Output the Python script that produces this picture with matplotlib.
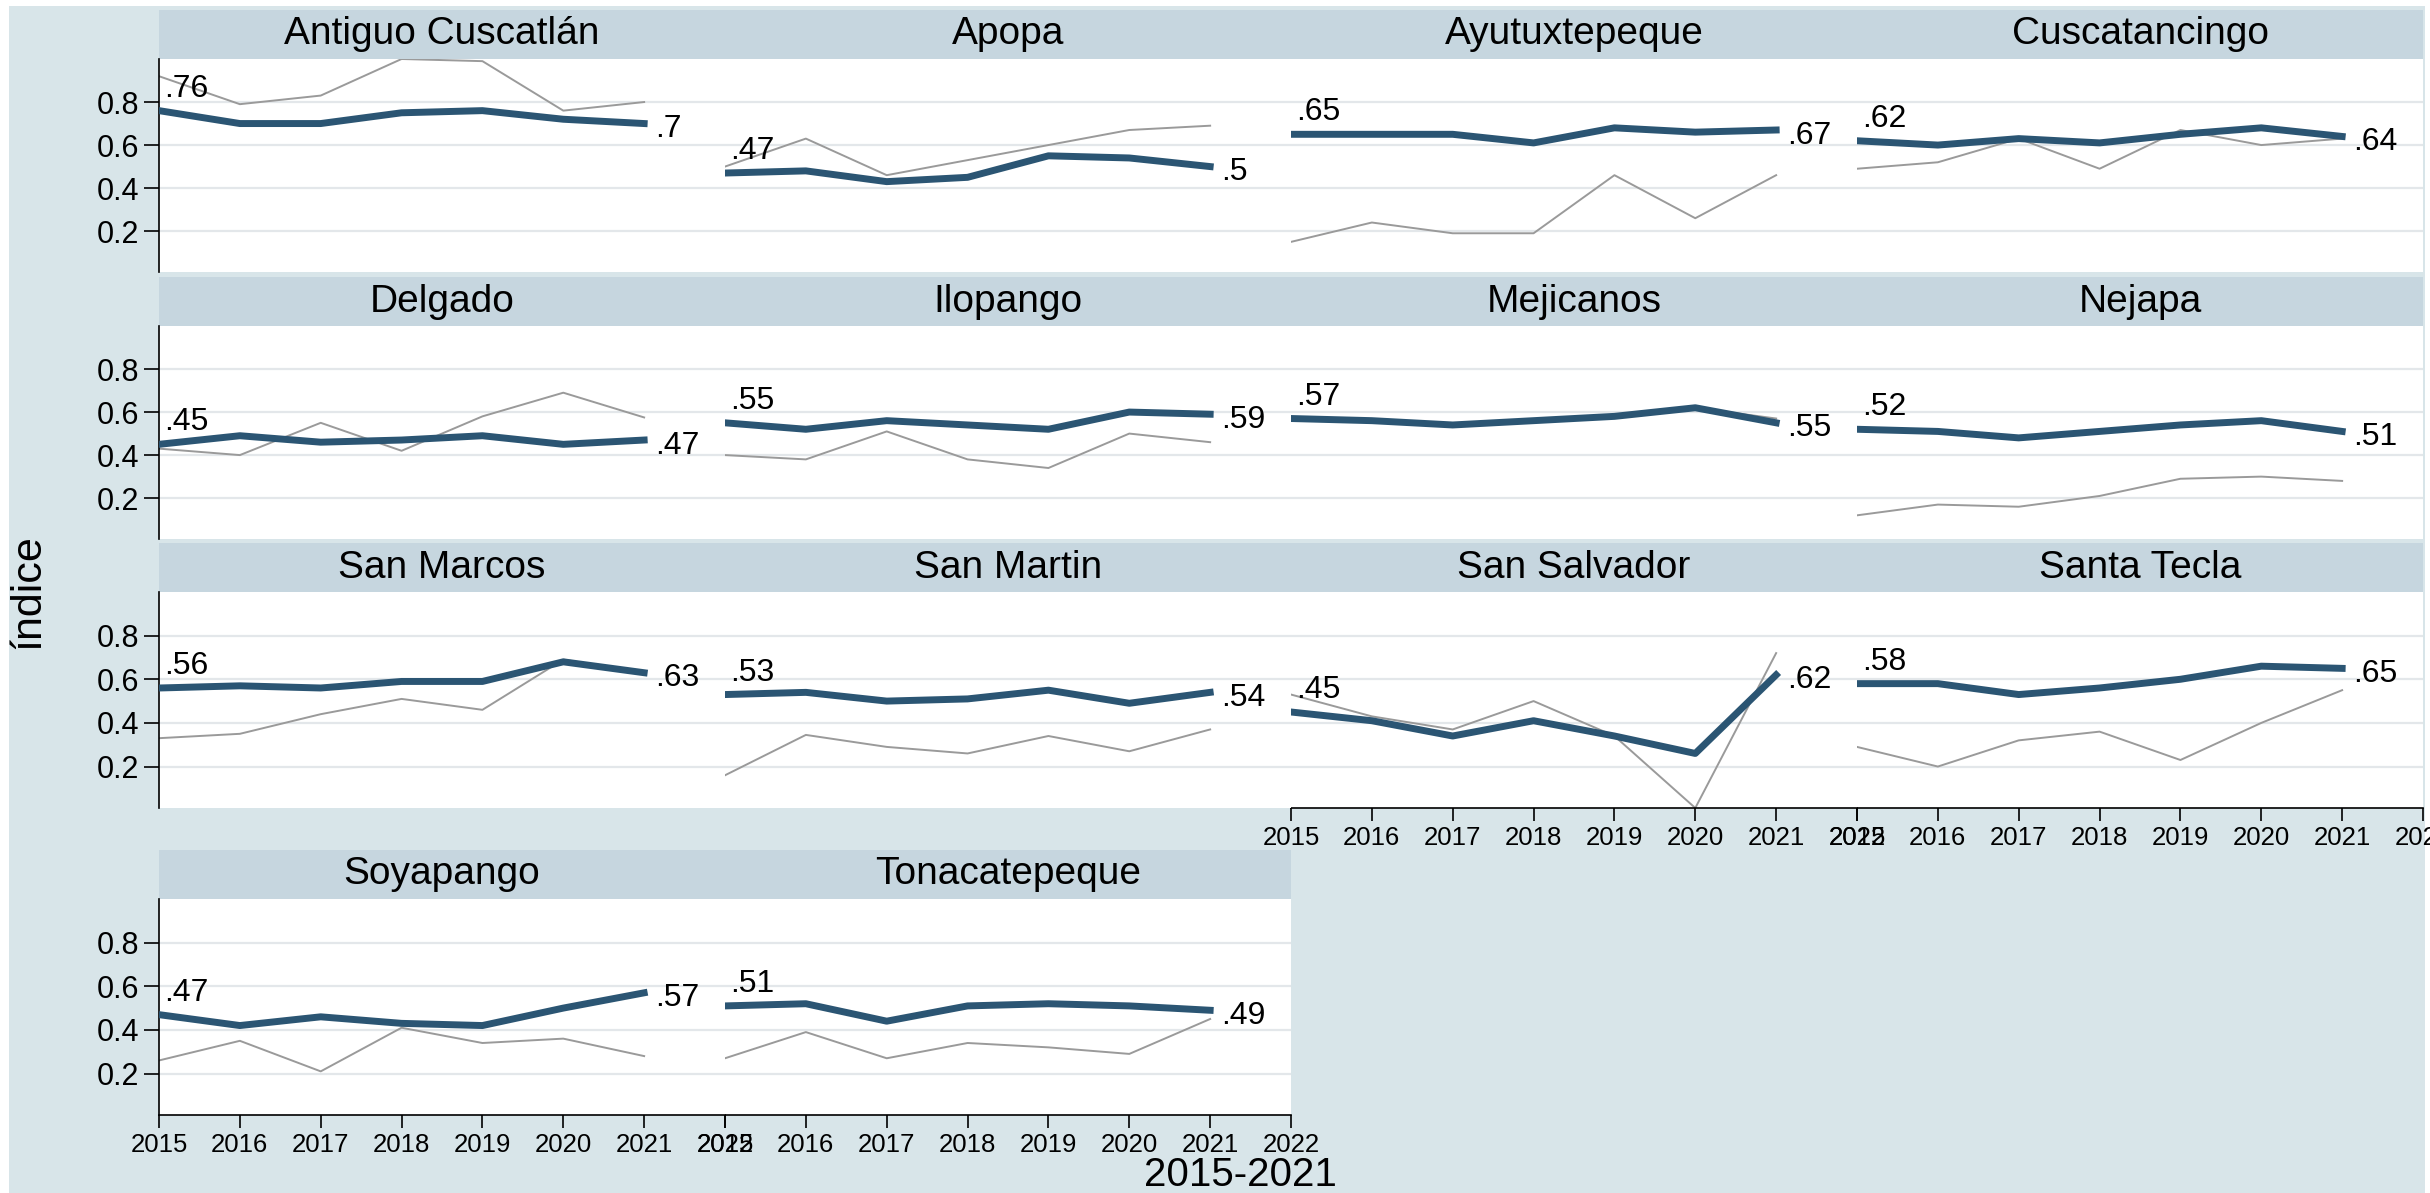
import matplotlib
matplotlib.use("Agg")
import matplotlib.pyplot as plt
from matplotlib.patches import Rectangle

plt.rcParams['font.family'] = ['Liberation Sans', 'DejaVu Sans']

# Años del período
anios = [2015, 2016, 2017, 2018, 2019, 2020, 2021]

# Índice por municipio (línea azul) y serie de comparación (línea gris)
antiguo_idx = [0.76, 0.70, 0.70, 0.75, 0.76, 0.72, 0.70]
antiguo_gris = [0.92, 0.79, 0.83, 1.00, 0.99, 0.76, 0.80]
apopa_idx = [0.47, 0.48, 0.43, 0.45, 0.55, 0.54, 0.50]
apopa_gris = [0.50, 0.63, 0.46, 0.53, 0.60, 0.67, 0.69]
ayutux_idx = [0.65, 0.65, 0.65, 0.61, 0.68, 0.66, 0.67]
ayutux_gris = [0.15, 0.24, 0.19, 0.19, 0.46, 0.26, 0.46]
cuscatancingo_idx = [0.62, 0.60, 0.63, 0.61, 0.65, 0.68, 0.64]
cuscatancingo_gris = [0.49, 0.52, 0.63, 0.49, 0.67, 0.60, 0.63]
delgado_idx = [0.45, 0.49, 0.46, 0.47, 0.49, 0.45, 0.47]
delgado_gris = [0.43, 0.40, 0.55, 0.42, 0.58, 0.69, 0.575]
ilopango_idx = [0.55, 0.52, 0.56, 0.54, 0.52, 0.60, 0.59]
ilopango_gris = [0.40, 0.38, 0.51, 0.38, 0.34, 0.50, 0.46]
mejicanos_idx = [0.57, 0.56, 0.54, 0.56, 0.58, 0.62, 0.55]
mejicanos_gris = [0.56, 0.555, 0.54, 0.555, 0.585, 0.62, 0.57]
nejapa_idx = [0.52, 0.51, 0.48, 0.51, 0.54, 0.56, 0.51]
nejapa_gris = [0.12, 0.17, 0.16, 0.21, 0.29, 0.30, 0.28]
san_marcos_idx = [0.56, 0.57, 0.56, 0.59, 0.59, 0.68, 0.63]
san_marcos_gris = [0.33, 0.35, 0.44, 0.51, 0.46, 0.69, 0.63]
san_martin_idx = [0.53, 0.54, 0.50, 0.51, 0.55, 0.49, 0.54]
san_martin_gris = [0.16, 0.345, 0.29, 0.26, 0.34, 0.27, 0.37]
san_salvador_idx = [0.45, 0.41, 0.34, 0.41, 0.34, 0.26, 0.62]
san_salvador_gris = [0.53, 0.43, 0.37, 0.50, 0.34, 0.01, 0.72]
santa_tecla_idx = [0.58, 0.58, 0.53, 0.56, 0.60, 0.66, 0.65]
santa_tecla_gris = [0.29, 0.20, 0.32, 0.36, 0.23, 0.40, 0.55]
soyapango_idx = [0.47, 0.42, 0.46, 0.43, 0.42, 0.50, 0.57]
soyapango_gris = [0.26, 0.35, 0.21, 0.41, 0.34, 0.36, 0.28]
tonaca_idx = [0.51, 0.52, 0.44, 0.51, 0.52, 0.51, 0.49]
tonaca_gris = [0.27, 0.39, 0.27, 0.34, 0.32, 0.29, 0.45]

municipios = ["Antiguo Cuscatlán", "Apopa", "Ayutuxtepeque", "Cuscatancingo",
              "Delgado", "Ilopango", "Mejicanos", "Nejapa",
              "San Marcos", "San Martin", "San Salvador", "Santa Tecla",
              "Soyapango", "Tonacatepeque"]
series_idx = [antiguo_idx, apopa_idx, ayutux_idx, cuscatancingo_idx,
              delgado_idx, ilopango_idx, mejicanos_idx, nejapa_idx,
              san_marcos_idx, san_martin_idx, san_salvador_idx, santa_tecla_idx,
              soyapango_idx, tonaca_idx]
series_gris = [antiguo_gris, apopa_gris, ayutux_gris, cuscatancingo_gris,
               delgado_gris, ilopango_gris, mejicanos_gris, nejapa_gris,
               san_marcos_gris, san_martin_gris, san_salvador_gris, santa_tecla_gris,
               soyapango_gris, tonaca_gris]

y_ticks = [0.2, 0.4, 0.6, 0.8]
x_ticks = [2015, 2016, 2017, 2018, 2019, 2020, 2021, 2022]

# Colores estilo Stata s2color
FONDO = "#d8e5e9"
FRANJA = "#c6d6df"
AZUL = "#2b5573"
GRIS = "#9a9a9a"

W, H = 2430, 1193
fig = plt.figure(figsize=(W / 100, H / 100), dpi=100, facecolor="white")
fig.patches.append(Rectangle((9 / W, 0), (2425 - 9) / W, 1 - 6 / H,
                             transform=fig.transFigure, facecolor=FONDO,
                             edgecolor="none", zorder=-10))


def ejes_px(left, top, width, height):
    # crea ejes a partir de coordenadas en píxeles (origen arriba a la izquierda)
    return fig.add_axes([left / W, 1 - (top + height) / H, width / W, height / H])


def etiqueta(v):
    # formato tipo Stata: .7, .47
    return ("%.2f" % v).rstrip("0").lstrip("0")


col_left = [159, 725, 1291, 1857]
ancho = 566
row_top = [10, 277, 543, 850]
alto_franja = 49
alto_plot = [213, 213, 216, 216]

for i, nombre in enumerate(municipios):
    r, c = divmod(i, 4)
    x0 = col_left[c]
    top = row_top[r]

    # franja con el nombre del municipio
    franja = ejes_px(x0, top, ancho, alto_franja)
    franja.set_facecolor(FRANJA)
    franja.set_xticks([])
    franja.set_yticks([])
    for s in franja.spines.values():
        s.set_visible(False)
    franja.text(0.5, 0.5, nombre, ha="center", va="center", fontsize=28,
                color="black", transform=franja.transAxes)

    ax = ejes_px(x0, top + alto_franja, ancho, alto_plot[r])
    ax.set_zorder(10 - c)
    ax.set_facecolor("white")
    ax.set_xlim(2015, 2022)
    ax.set_ylim(0.01, 1.0)
    ax.set_yticks(y_ticks)
    ax.set_yticklabels([str(t) for t in y_ticks])
    ax.set_xticks(x_ticks)
    ax.grid(axis="y", color="#e3e7ea", lw=1.6)
    ax.set_axisbelow(True)

    ax.plot(anios, series_gris[i], color=GRIS, lw=1.4, zorder=2)
    ax.plot(anios, series_idx[i], color=AZUL, lw=5, zorder=3,
            solid_joinstyle="round")

    ax.annotate(etiqueta(series_idx[i][0]), (anios[0], series_idx[i][0]),
                xytext=(4, 5), textcoords="offset points", ha="left",
                va="bottom", fontsize=23, zorder=5)
    ax.annotate(etiqueta(series_idx[i][-1]), (anios[-1], series_idx[i][-1]),
                xytext=(8, -4), textcoords="offset points", ha="left",
                va="center", fontsize=23, zorder=5)

    for s in ["top", "right"]:
        ax.spines[s].set_visible(False)

    if c == 0:
        ax.spines["left"].set_color("black")
        ax.spines["left"].set_linewidth(1.2)
        ax.tick_params(axis="y", direction="out", length=11, width=1.2,
                       labelsize=22, pad=3)
    else:
        ax.spines["left"].set_visible(False)
        ax.tick_params(axis="y", left=False, labelleft=False)

    # eje x solo en el último panel de cada columna
    abajo = (r == 3) or (r == 2 and c >= 2)
    if abajo:
        ax.spines["bottom"].set_color("black")
        ax.spines["bottom"].set_linewidth(1.2)
        ax.tick_params(axis="x", direction="out", length=9, width=1.2,
                       labelsize=18.5, pad=4)
    else:
        ax.spines["bottom"].set_visible(False)
        ax.tick_params(axis="x", bottom=False, labelbottom=False)

fig.text(28 / W, 1 - 592 / H, "índice", rotation=90, ha="center", va="center",
         fontsize=31)
fig.text(1240 / W, 1 - 1175 / H, "2015-2021", ha="center", va="center",
         fontsize=29)

fig.savefig("out.png", dpi=100, facecolor="white")
